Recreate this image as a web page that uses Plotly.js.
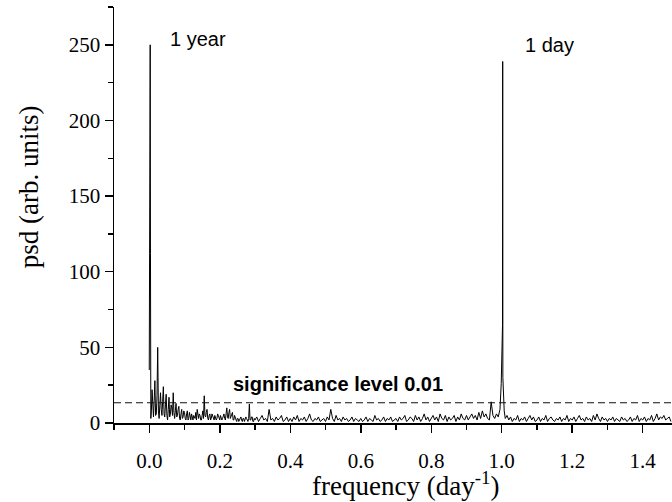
<!DOCTYPE html>
<html>
<head>
<meta charset="utf-8">
<script src="https://cdn.plot.ly/plotly-3.0.1.min.js"></script>
<style>html,body{margin:0;padding:0;background:#fff;}#chart{width:672px;height:502px;}</style>
</head>
<body>
<div id="chart"></div>
<script>
// ---- data ----
// 1-year peak region (explicit frequencies, day^-1)
const yearPeakFreq = [0.0, 0.0027, 0.0035, 0.0045];
const yearPeakPsd  = [35, 250, 112, 3];

// low-frequency noise, sampled every 0.002 from 0.006 to 0.298
const lowStart = 0.006, lowStep = 0.002;
const lowPsd = [8,
  22,7, 4,15, 28,5, 6,18, 50,8, 3,12, 20,9, 5,14, 24,6, 4,12,
  19,5, 2,9, 17,4, 6,12, 10,5, 20,7, 3,8, 13,4, 5,9, 11,3,
  2,6, 9,3, 4,8, 7,3, 2,6, 8,2, 3,7, 5,2, 6,4, 2,5,
  4,3, 7,2, 9,4, 3,6, 5,2, 2,5, 8,3, 18,5, 4,7, 9,3,
  2,5, 6,2, 3,6, 5,3, 2,5, 4,2, 3,6, 5,2, 2,5, 4,2,
  3,5, 6,3, 2,6, 10,4, 3,7, 9,3, 4,6, 7,2, 2,5, 4,2,
  1,3, 3,1, 2,4, 4,2, 1,3, 3,1, 2,4, 3,2, 1,3, 12.5,2,
  2,4, 4,1, 1,3];

// mid-frequency noise, every 0.005 from 0.300 to 0.995
const midStart = 0.300, midStep = 0.005;
const midPsd = [2,4,1,3,5,2,3,1,9,2,3,1,4,2,3,5,1,2,4,1,
                3,1,4,2,5,1,3,2,4,1,3,6,2,1,3,2,4,1,2,3,
                1,4,2,9,3,1,5,2,3,1,4,2,3,1,2,4,1,3,2,1,
                3,1,2,4,1,3,2,1,5,2,3,1,2,4,1,3,2,4,1,2,
                3,1,4,2,3,5,1,2,4,3,1,5,2,4,1,3,6,2,4,1,
                3,5,2,4,1,6,3,2,5,1,4,2,3,5,1,4,2,6,3,2,
                5,2,4,6,3,5,2,7,3,8,4,6,3,2,14,5,3,6,4,9];

// 1-day peak region
const dayPeakFreq = [0.9985, 1.0022, 1.0027, 1.0032, 1.007];
const dayPeakPsd  = [26, 65, 239, 30, 8];

// high-frequency noise, every 0.005 from 1.010 to 1.480
const highStart = 1.010, highStep = 0.005;
const highPsd = [3,5,2,4,1,3,2,5,1,3,2,4,1,3,5,2,4,1,
                 2,4,1,3,2,5,1,3,4,2,1,3,2,4,1,3,2,5,1,3,
                 2,4,1,3,5,2,3,1,4,2,3,1,5,2,6,3,1,4,2,3,
                 1,3,2,4,1,3,2,1,4,2,3,1,2,4,1,3,2,5,1,3,
                 2,4,1,3,2,5,1,3,6,2,4,3,5,2,3,4,1];

const significanceLevel = 13.4;
const xTickVals = [0.0, 0.2, 0.4, 0.6, 0.8, 1.0, 1.2, 1.4];
const yTickVals = [0, 50, 100, 150, 200, 250];

// ---- assemble the series ----
function grid(start, step, vals){ return vals.map((_, i) => +(start + i*step).toFixed(4)); }
const freq = [].concat(yearPeakFreq, grid(lowStart, lowStep, lowPsd), grid(midStart, midStep, midPsd),
                       dayPeakFreq, grid(highStart, highStep, highPsd));
const psd  = [].concat(yearPeakPsd, lowPsd, midPsd, dayPeakPsd, highPsd);

const serif = 'Liberation Serif, Times New Roman, serif';
const sans = 'Liberation Sans, Arial, sans-serif';

const traces = [
  {x: freq, y: psd, type: 'scatter', mode: 'lines', line: {color: '#000', width: 1}, hoverinfo: 'x+y'},
  {x: [-0.1, 1.5], y: [significanceLevel, significanceLevel], type: 'scatter', mode: 'lines',
   line: {color: '#111', width: 1.2, dash: '7px,4px'}}
];

const layout = {
  width: 672, height: 502,
  margin: {l: 114, r: 0, t: 7, b: 79},
  paper_bgcolor: '#fff', plot_bgcolor: '#fff',
  showlegend: false,
  xaxis: {
    range: [-0.1, 1.483], tickvals: xTickVals, ticktext: xTickVals.map(v => v.toFixed(1)),
    ticks: 'outside', ticklen: 8, tickwidth: 1.5, tickcolor: '#000', ticklabelstandoff: 10,
    minor: {dtick: 0.1, tick0: 0, ticks: 'outside', ticklen: 5, tickwidth: 1.5, tickcolor: '#000'},
    showline: true, linecolor: '#000', linewidth: 1.5, showgrid: false, zeroline: false,
    tickfont: {family: serif, size: 21, color: '#000'}
  },
  yaxis: {
    range: [0, 275], tickvals: yTickVals,
    ticks: 'outside', ticklen: 8, tickwidth: 1.5, tickcolor: '#000',
    minor: {dtick: 25, tick0: 0, ticks: 'outside', ticklen: 5, tickwidth: 1.5, tickcolor: '#000'},
    showline: true, linecolor: '#000', linewidth: 1.5, showgrid: false, zeroline: false,
    tickfont: {family: serif, size: 21, color: '#000'}
  },
  annotations: [
    {x: 0.054, y: 254, xref: 'x', yref: 'y', text: '1 year', showarrow: false, xanchor: 'left', yanchor: 'middle',
     font: {family: sans, size: 20, color: '#000'}},
    {x: 1.06, y: 250, xref: 'x', yref: 'y', text: '1 day', showarrow: false, xanchor: 'left', yanchor: 'middle',
     font: {family: sans, size: 20, color: '#000'}},
    {x: 0.233, y: 25.8, xref: 'x', yref: 'y', text: '<b>significance level 0.01</b>', showarrow: false,
     xanchor: 'left', yanchor: 'middle', font: {family: sans, size: 20, color: '#000'}},
    {x: -0.152, y: 0.567, xref: 'paper', yref: 'paper', text: 'psd (arb. units)', textangle: -90, showarrow: false,
     xanchor: 'center', yanchor: 'middle', font: {family: serif, size: 27, color: '#000'}},
    {x: 0.523, y: -0.192, xref: 'paper', yref: 'paper', text: 'frequency (day<sup>-1</sup>)', showarrow: false,
     xanchor: 'center', yanchor: 'bottom', font: {family: serif, size: 27, color: '#000'}}
  ]
};

Plotly.newPlot('chart', traces, layout, {displayModeBar: false, staticPlot: true});
</script>
</body>
</html>
